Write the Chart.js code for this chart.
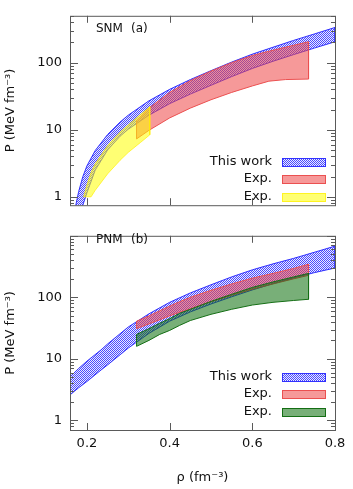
<!DOCTYPE html>
<html>
<head>
<meta charset="utf-8">
<script src="https://cdn.jsdelivr.net/npm/chart.js@4"></script>
<style>
  html, body { margin: 0; padding: 0; background: #fff; }
  #wrap { position: relative; width: 353px; height: 489px; }
  .box { position: absolute; left: 0; width: 353px; }
</style>
</head>
<body>
<div id="wrap">
  <div class="box" style="top:0;height:221px"><canvas id="topChart" width="353" height="221"></canvas></div>
  <div class="box" style="top:220px;height:269px"><canvas id="botChart" width="353" height="269"></canvas></div>
</div>
<script>
// ---- data ----
const xTicks = [0.2, 0.4, 0.6, 0.8];
const yTicks = [1, 10, 100];

// panel (a) SNM
const snmWorkX  = [0.16, 0.173, 0.18, 0.19, 0.2, 0.22, 0.25, 0.28, 0.3, 0.35, 0.4, 0.45, 0.5, 0.55, 0.6, 0.65, 0.7, 0.75, 0.8];
const snmWorkHi = [0.4, 0.75, 1.2, 2.0, 2.9, 4.9, 8.5, 13, 16.5, 27, 40, 56, 76, 102, 134, 170, 215, 268, 335];
const snmWorkLo = [0.2, 0.4, 0.5, 0.75, 1.15, 2.5, 5.0, 8.0, 10.2, 16.5, 24.5, 34, 46, 62, 82, 105, 132, 165, 205];

const snmFlowX  = [0.32, 0.35, 0.4, 0.45, 0.5, 0.55, 0.6, 0.64, 0.68, 0.736];
const snmFlowHi = [13.7, 21, 36, 54, 75, 100, 128, 148, 170, 205];
const snmFlowLo = [7.3, 9.8, 15, 21, 28, 36, 45, 53, 56, 57];

const snmKaonX  = [0.192, 0.2, 0.21, 0.22, 0.25, 0.28, 0.3, 0.33, 0.352];
const snmKaonHi = [1.0, 1.5, 2.3, 3.1, 5.8, 9.2, 11.8, 17, 22];
const snmKaonLo = [1.0, 1.0, 1.0, 1.25, 2.2, 3.5, 4.6, 6.5, 8.4];

// panel (b) PNM
const pnmWorkX  = [0.159, 0.18, 0.2, 0.234, 0.25, 0.3, 0.35, 0.4, 0.45, 0.5, 0.55, 0.6, 0.65, 0.7, 0.75, 0.8];
const pnmWorkHi = [5.1, 7, 9.2, 14, 17.5, 33, 54, 83, 118, 160, 215, 280, 350, 430, 540, 680];
const pnmWorkLo = [2.6, 3.4, 4.3, 6.6, 8.0, 15, 26, 41, 58, 78, 102, 132, 167, 207, 252, 300];

const pnmStiffX  = [0.32, 0.35, 0.4, 0.424, 0.45, 0.5, 0.55, 0.6, 0.65, 0.7, 0.736];
const pnmStiffHi = [41, 50, 72, 85, 100, 130, 165, 205, 245, 295, 345];
const pnmStiffLo = [31, 37, 50, 57, 65, 85, 108, 135, 165, 200, 228];

const pnmSoftX  = [0.32, 0.35, 0.376, 0.4, 0.424, 0.45, 0.5, 0.55, 0.6, 0.65, 0.7, 0.736];
const pnmSoftHi = [25, 31, 38, 45, 55, 64, 86, 112, 145, 178, 215, 245];
const pnmSoftLo = [16, 20, 25, 29, 35, 42, 53, 64, 75, 83, 89, 93];

const FONT = 'DejaVu Sans';

// blue checkered fill like the gnuplot pattern
function checker() {
  const c = document.createElement('canvas');
  c.width = 2; c.height = 2;
  const g = c.getContext('2d');
  g.fillStyle = 'rgba(55,55,255,0.9)';
  g.fillRect(0, 0, 1, 1);
  g.fillRect(1, 1, 1, 1);
  g.fillStyle = 'rgba(120,120,255,0.15)';
  g.fillRect(1, 0, 1, 1);
  g.fillRect(0, 1, 1, 1);
  return g.createPattern(c, 'repeat');
}

// closed polygon: upper edge left->right, lower edge right->left
function band(label, xs, lo, hi, fillCol, lineCol, order) {
  const pts = xs.map((x, i) => ({x: x, y: hi[i]}));
  for (let i = xs.length - 1; i >= 0; i--) pts.push({x: xs[i], y: lo[i]});
  pts.push({x: xs[0], y: hi[0]});
  return {
    label: label,
    data: pts,
    order: order,
    fill: 'shape',
    backgroundColor: fillCol,
    borderColor: lineCol,
    borderWidth: 1,
    pointRadius: 0,
    tension: 0
  };
}

// frame with inward ticks on all four sides
const framePlugin = {
  id: 'frame',
  afterDatasetsDraw(chart) {
    const {ctx, chartArea: a, scales: {x, y}} = chart;
    ctx.save();
    ctx.strokeStyle = '#5a5a5a';
    ctx.lineWidth = 1;
    ctx.strokeRect(a.left + 0.5, a.top + 0.5, a.right - a.left, a.bottom - a.top);
    ctx.beginPath();
    const d0 = Math.floor(Math.log10(y.min)), d1 = Math.ceil(Math.log10(y.max));
    for (let d = d0; d <= d1; d++) {
      for (let m = 1; m <= 9; m++) {
        const v = m * Math.pow(10, d);
        if (v < y.min || v > y.max) continue;
        const len = m === 1 ? 8 : 4;
        const py = Math.round(y.getPixelForValue(v)) + 0.5;
        ctx.moveTo(a.left, py); ctx.lineTo(a.left + len, py);
        ctx.moveTo(a.right, py); ctx.lineTo(a.right - len, py);
      }
    }
    xTicks.forEach(v => {
      const px = Math.round(x.getPixelForValue(v)) + 0.5;
      if (px >= a.right - 1) return;
      ctx.moveTo(px, a.bottom); ctx.lineTo(px, a.bottom - 7);
      ctx.moveTo(px, a.top); ctx.lineTo(px, a.top + 7);
    });
    ctx.stroke();
    ctx.restore();
  }
};

// panel tag and key in the lower right
const keyPlugin = {
  id: 'key',
  afterDraw(chart, args, opts) {
    const {ctx} = chart;
    ctx.save();
    ctx.font = '12px ' + FONT;
    ctx.fillStyle = '#111';
    ctx.textBaseline = 'middle';
    ctx.fillText(opts.name, 96, opts.tagY);
    ctx.fillText(opts.tag, 131, opts.tagY);
    ctx.font = '13px ' + FONT;
    ctx.textAlign = 'right';
    chart.data.datasets.forEach((ds, i) => {
      const yy = opts.rows[i];
      ctx.fillStyle = '#111';
      ctx.fillText(ds.label, 272, yy);
      ctx.fillStyle = ds.backgroundColor;
      ctx.fillRect(282, yy - 4, 44, 9);
      ctx.strokeStyle = ds.borderColor;
      ctx.strokeRect(282.5, yy - 3.5, 43, 8);
    });
    ctx.restore();
  }
};

function yScale(min, max) {
  return {
    type: 'logarithmic',
    min: min,
    max: max,
    afterFit: s => { s.width = 70; },
    afterBuildTicks: s => {
      s.ticks = yTicks.filter(v => v >= s.min && v <= s.max).map(v => ({value: v}));
    },
    grid: {display: false, drawTicks: false},
    border: {display: false},
    ticks: {
      padding: 8,
      color: '#111',
      font: {family: FONT, size: 13},
      callback: v => String(v)
    },
    title: {
      display: true,
      text: 'P (MeV fm⁻³)',
      color: '#111',
      font: {family: FONT, size: 13},
      padding: {top: 3, bottom: 0}
    }
  };
}

new Chart(document.getElementById('topChart'), {
  type: 'line',
  data: {
    datasets: [
      band('This work', snmWorkX, snmWorkLo, snmWorkHi, checker(), 'rgb(50,50,255)', 2),
      band('Exp.', snmFlowX, snmFlowLo, snmFlowHi, 'rgba(238,70,70,0.55)', 'rgb(235,80,80)', 1),
      band('Exp.', snmKaonX, snmKaonLo, snmKaonHi, 'rgba(255,255,0,0.55)', 'rgba(255,240,0,0.7)', 0)
    ]
  },
  options: {
    responsive: false,
    devicePixelRatio: 1,
    animation: false,
    events: [],
    layout: {padding: {left: 0, right: 18, top: 10, bottom: 1}},
    scales: {
      x: {type: 'linear', min: 0.159, max: 0.8, display: false},
      y: yScale(0.75, 500)
    },
    plugins: {
      legend: {display: false},
      tooltip: {enabled: false},
      key: {name: 'SNM', tag: '(a)', tagY: 29, rows: [162, 179, 197]}
    }
  },
  plugins: [framePlugin, keyPlugin]
});

new Chart(document.getElementById('botChart'), {
  type: 'line',
  data: {
    datasets: [
      band('This work', pnmWorkX, pnmWorkLo, pnmWorkHi, checker(), 'rgb(50,50,255)', 2),
      band('Exp.', pnmStiffX, pnmStiffLo, pnmStiffHi, 'rgba(238,70,70,0.55)', 'rgb(235,80,80)', 1),
      band('Exp.', pnmSoftX, pnmSoftLo, pnmSoftHi, 'rgba(10,110,10,0.55)', 'rgb(20,110,20)', 0)
    ]
  },
  options: {
    responsive: false,
    devicePixelRatio: 1,
    animation: false,
    events: [],
    layout: {padding: {left: 0, right: 18, top: 0, bottom: 0}},
    scales: {
      x: {
        type: 'linear',
        min: 0.159,
        max: 0.8,
        afterFit: s => { s.height = 59; },
        afterBuildTicks: s => { s.ticks = xTicks.map(v => ({value: v})); },
        grid: {display: false, drawTicks: false},
        border: {display: false},
        ticks: {
          padding: 6,
          color: '#111',
          maxRotation: 0,
          font: {family: FONT, size: 13},
          callback: v => v.toFixed(1)
        },
        title: {
          display: true,
          text: 'ρ (fm⁻³)',
          color: '#111',
          font: {family: FONT, size: 13},
          padding: {top: 0, bottom: 4}
        }
      },
      y: yScale(0.7, 1000)
    },
    plugins: {
      legend: {display: false},
      tooltip: {enabled: false},
      key: {name: 'PNM', tag: '(b)', tagY: 20, rows: [157, 174, 192]}
    }
  },
  plugins: [framePlugin, keyPlugin]
});
</script>
</body>
</html>
